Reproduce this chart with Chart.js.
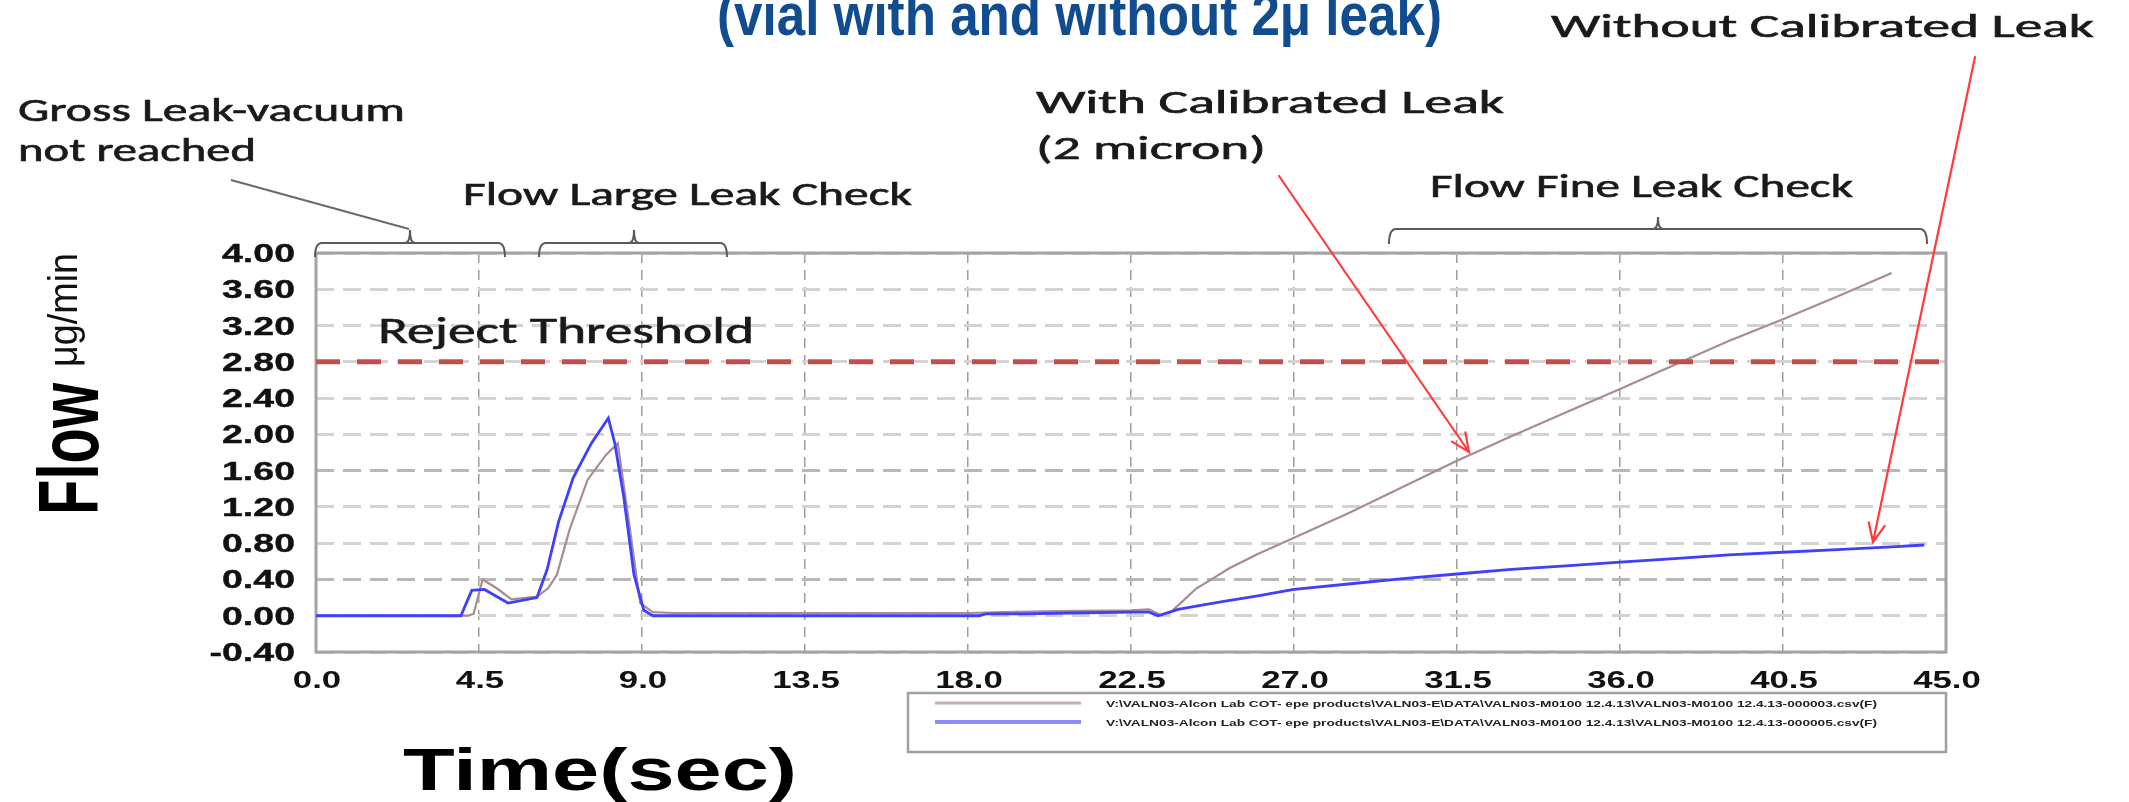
<!DOCTYPE html>
<html>
<head>
<meta charset="utf-8">
<script src="https://cdn.jsdelivr.net/npm/chart.js@4.4.1/dist/chart.umd.min.js"></script>
<style>
  html, body { margin: 0; padding: 0; background: #ffffff; }
  #wrap { width: 2129px; height: 802px; }
</style>
</head>
<body>
<div id="wrap"><canvas id="c" width="2129" height="802"></canvas></div>
<script>
// ---------------- DATA ----------------
const seriesLabels = [
  'V:\\VALN03-Alcon Lab COT- epe products\\VALN03-E\\DATA\\VALN03-M0100 12.4.13\\VALN03-M0100 12.4.13-000003.csv(F)',
  'V:\\VALN03-Alcon Lab COT- epe products\\VALN03-E\\DATA\\VALN03-M0100 12.4.13\\VALN03-M0100 12.4.13-000005.csv(F)'
];

// With calibrated leak (2 micron) - mauve/brown trace
const timeWith = [0, 4.2, 4.35, 4.6, 5.0, 5.4, 6.1, 6.4, 6.65, 7.0, 7.5, 8.0, 8.33, 8.6, 8.95, 9.3, 9.9, 12, 15, 18, 19, 20.5, 22.5, 23.0, 23.3, 23.6, 23.9, 24.3, 24.8, 25.2, 26, 27, 28.5, 30, 31.5, 33, 34.5, 36, 37.7, 39, 40.5, 42, 43.5];
const flowWith = [0, 0, 0.02, 0.40, 0.30, 0.18, 0.21, 0.30, 0.45, 0.95, 1.50, 1.77, 1.90, 1.15, 0.14, 0.04, 0.03, 0.03, 0.03, 0.03, 0.04, 0.05, 0.06, 0.07, 0.01, 0.04, 0.15, 0.30, 0.42, 0.52, 0.68, 0.86, 1.13, 1.42, 1.71, 1.98, 2.24, 2.50, 2.80, 3.03, 3.27, 3.52, 3.78];

// Without calibrated leak - blue trace
const timeWithout = [0, 4.0, 4.3, 4.65, 5.3, 6.1, 6.38, 6.7, 7.1, 7.6, 8.07, 8.25, 8.5, 8.78, 9.05, 9.3, 12, 18.3, 18.5, 19.5, 20.8, 22.5, 23.0, 23.25, 23.8, 24.5, 25.1, 26, 27, 28.5, 30, 31.5, 33, 34.5, 36, 37.5, 39, 40.5, 42, 43.5, 44.4];
const flowWithout = [0, 0, 0.28, 0.29, 0.14, 0.20, 0.51, 1.04, 1.52, 1.90, 2.18, 1.90, 1.30, 0.45, 0.06, 0.00, 0.00, 0.00, 0.02, 0.02, 0.03, 0.04, 0.04, 0.00, 0.07, 0.12, 0.16, 0.22, 0.29, 0.35, 0.41, 0.46, 0.51, 0.55, 0.59, 0.63, 0.67, 0.70, 0.73, 0.76, 0.78];

const rejectThreshold = 2.8;

const xTickValues = [0, 4.5, 9, 13.5, 18, 22.5, 27, 31.5, 36, 40.5, 45];
const xTickLabels = ['0.0', '4.5', '9.0', '13.5', '18.0', '22.5', '27.0', '31.5', '36.0', '40.5', '45.0'];
const yTickValues = [-0.4, 0, 0.4, 0.8, 1.2, 1.6, 2.0, 2.4, 2.8, 3.2, 3.6, 4.0];
const yTickLabels = ['-0.40', '0.00', '0.40', '0.80', '1.20', '1.60', '2.00', '2.40', '2.80', '3.20', '3.60', '4.00'];

const titleText = '(vial with and without 2\u03bc leak)';
const xAxisTitle = 'Time(sec)';
const yAxisTitle = 'Flow';
const yAxisUnit = '\u03bcg/min';

// ---------------- HELPERS ----------------
const toPoints = (xs, ys) => xs.map((x, i) => ({ x: x, y: ys[i] }));

function drawText(ctx, str, x, y, o) {
  ctx.save();
  ctx.font = o.font;
  ctx.fillStyle = o.color || '#1a1a1a';
  ctx.textBaseline = 'alphabetic';
  ctx.textAlign = o.align || 'left';
  const w = ctx.measureText(str).width;
  let sx = 1;
  if (o.width) sx = o.width / w;
  else if (o.sx) sx = o.sx;
  ctx.translate(x, y);
  if (o.rotate) ctx.rotate(o.rotate);
  ctx.scale(sx, 1);
  ctx.fillText(str, 0, 0);
  if (o.stroke) {
    ctx.strokeStyle = o.color || '#1a1a1a';
    ctx.lineWidth = o.stroke;
    ctx.strokeText(str, 0, 0);
  }
  ctx.restore();
}

function arrow(ctx, x1, y1, x2, y2, color) {
  ctx.save();
  ctx.strokeStyle = color; ctx.lineWidth = 2.2; ctx.lineCap = 'round';
  ctx.beginPath(); ctx.moveTo(x1, y1); ctx.lineTo(x2, y2); ctx.stroke();
  const a = Math.atan2(y2 - y1, x2 - x1);
  const L = 20, spread = 0.42;
  ctx.beginPath();
  ctx.moveTo(x2 - L * Math.cos(a - spread), y2 - L * Math.sin(a - spread));
  ctx.lineTo(x2, y2);
  ctx.lineTo(x2 - L * Math.cos(a + spread), y2 - L * Math.sin(a + spread));
  ctx.stroke();
  ctx.restore();
}

function bracket(ctx, xL, xR, xM, yH, hook, tick) {
  ctx.save();
  ctx.strokeStyle = '#5a5a5a'; ctx.lineWidth = 2;
  ctx.beginPath();
  ctx.moveTo(xL, yH + hook);
  ctx.quadraticCurveTo(xL, yH, xL + 7, yH);
  ctx.lineTo(xR - 7, yH);
  ctx.quadraticCurveTo(xR, yH, xR, yH + hook);
  ctx.stroke();
  ctx.beginPath();
  ctx.moveTo(xM - 5, yH);
  ctx.quadraticCurveTo(xM, yH, xM, yH - tick);
  ctx.moveTo(xM + 5, yH);
  ctx.quadraticCurveTo(xM, yH, xM, yH - tick);
  ctx.stroke();
  ctx.restore();
}

const ANN = '"Carlito", "Lato", "Open Sans", sans-serif';
const ARIAL = '"Liberation Sans", Arial, sans-serif';

const decorPlugin = {
  id: 'decor',
  beforeDatasetsDraw(chart) {
    const { ctx, chartArea: a } = chart;
    ctx.save();
    ctx.strokeStyle = '#a3a3a3';
    ctx.lineWidth = 3;
    ctx.strokeRect(a.left, a.top, a.right - a.left, a.bottom - a.top);
    ctx.restore();
  },
  afterDraw(chart) {
    const ctx = chart.ctx;
    const xs = chart.scales.x, ys = chart.scales.y;

    // tick labels via scales
    ys.ticks.forEach((t, i) => {
      const py = ys.getPixelForValue(t.value);
      drawText(ctx, yTickLabels[i], 295, py + 9, { font: 'bold 25px ' + ARIAL, sx: 1.5, align: 'right', color: '#111', stroke: 0.4 });
    });
    xs.ticks.forEach((t, i) => {
      const px = xs.getPixelForValue(t.value);
      drawText(ctx, xTickLabels[i], px + 1, 688, { font: 'bold 24px ' + ARIAL, sx: 1.45, align: 'center', color: '#111' });
    });

    // axis titles
    drawText(ctx, xAxisTitle, 403, 790, { font: 'bold 60px ' + ARIAL, width: 394, color: '#000' });
    drawText(ctx, yAxisTitle, 98, 515, { font: 'bold 85px ' + ARIAL, width: 132, rotate: -Math.PI / 2, color: '#000' });
    drawText(ctx, yAxisUnit, 77, 367, { font: '40px ' + ARIAL, width: 114, rotate: -Math.PI / 2, color: '#111' });

    // title (clipped at top)
    drawText(ctx, titleText, 717, 35, { font: 'bold 60px ' + ARIAL, width: 725, color: '#104c8e' });

    // annotations
    const ac = '#1a1a1a';
    const st = 0.6;
    drawText(ctx, 'Gross Leak-vacuum', 18, 121, { font: '32px ' + ANN, width: 387, color: ac, stroke: st });
    drawText(ctx, 'not reached', 18, 161, { font: '32px ' + ANN, width: 238, color: ac, stroke: st });
    drawText(ctx, 'Flow Large Leak Check', 463, 205, { font: '32px ' + ANN, width: 449, color: ac, stroke: st });
    drawText(ctx, 'With Calibrated Leak', 1036, 113, { font: '33px ' + ANN, width: 468, color: ac, stroke: st });
    drawText(ctx, '(2 micron)', 1036, 159, { font: '33px ' + ANN, width: 230, color: ac, stroke: st });
    drawText(ctx, 'Without Calibrated Leak', 1551, 37, { font: '33px ' + ANN, width: 543, color: ac, stroke: st });
    drawText(ctx, 'Flow Fine Leak Check', 1430, 197, { font: '32px ' + ANN, width: 423, color: ac, stroke: st });
    drawText(ctx, 'Reject Threshold', 378, 343, { font: '37px ' + ANN, width: 376, color: ac, stroke: st });

    // brackets
    bracket(ctx, 315, 505, 410, 243, 14, 13);
    bracket(ctx, 539, 727, 634, 243, 14, 13);
    bracket(ctx, 1389, 1927, 1658, 229, 15, 12);

    // pointer line for gross leak
    ctx.save();
    ctx.strokeStyle = '#6a6a6a'; ctx.lineWidth = 2;
    ctx.beginPath(); ctx.moveTo(231, 180); ctx.lineTo(409, 229); ctx.stroke();
    ctx.restore();

    // red arrows
    arrow(ctx, 1279, 176, 1469, 452, '#ff3b3b');
    arrow(ctx, 1975, 57, 1873, 542, '#ff3b3b');

    // legend box
    ctx.save();
    ctx.strokeStyle = '#a0a0a0'; ctx.lineWidth = 2.5;
    ctx.strokeRect(908, 693, 1038, 59);
    const ds = chart.data.datasets;
    const rows = [{ d: ds[2], y: 703 }, { d: ds[1], y: 722 }];
    rows.forEach((r, i) => {
      ctx.strokeStyle = i === 0 ? '#c8aeb3' : '#8c8cff';
      ctx.lineWidth = i === 0 ? 3 : 4;
      ctx.beginPath(); ctx.moveTo(935, r.y); ctx.lineTo(1081, r.y); ctx.stroke();
      drawText(ctx, r.d.label, 1106, r.y + 4, { font: 'bold 9px ' + ARIAL, width: 771, color: '#222' });
    });
    ctx.restore();
  }
};

const chart = new Chart(document.getElementById('c'), {
  type: 'line',
  data: {
    datasets: [
      {
        label: 'Reject Threshold',
        data: [{ x: 0, y: rejectThreshold }, { x: 45, y: rejectThreshold }],
        borderColor: '#c0504d', borderWidth: 5, borderDash: [24, 17],
        pointRadius: 0, order: 0
      },
      {
        label: seriesLabels[1],
        data: toPoints(timeWithout, flowWithout),
        borderColor: '#3f3fff', borderWidth: 2.8, pointRadius: 0, order: 1
      },
      {
        label: seriesLabels[0],
        data: toPoints(timeWith, flowWith),
        borderColor: '#a88c91', borderWidth: 2.2, pointRadius: 0, order: 2
      }
    ]
  },
  options: {
    responsive: false,
    animation: false,
    devicePixelRatio: 1,
    layout: { padding: { left: 316, right: 183, top: 253, bottom: 150 } },
    elements: { line: { tension: 0 }, point: { radius: 0 } },
    plugins: { legend: { display: false }, tooltip: { enabled: false } },
    scales: {
      x: {
        type: 'linear', min: 0, max: 45,
        afterBuildTicks: (s) => { s.ticks = xTickValues.map(v => ({ value: v })); },
        ticks: { display: false },
        grid: { color: '#9e9e9e', lineWidth: 1.5, drawTicks: false },
        border: { display: false, dash: [10, 7] }
      },
      y: {
        type: 'linear', min: -0.4, max: 4.0,
        afterBuildTicks: (s) => { s.ticks = yTickValues.map(v => ({ value: v })); },
        ticks: { display: false },
        grid: {
          color: (c) => (c.tick && (Math.abs(c.tick.value - 1.6) < 1e-6 || Math.abs(c.tick.value - 0.4) < 1e-6)) ? '#b8b8b8' : '#d3d3d3',
          lineWidth: 3, drawTicks: false
        },
        border: { display: false, dash: [18, 9] }
      }
    }
  },
  plugins: [decorPlugin]
});
</script>
</body>
</html>
